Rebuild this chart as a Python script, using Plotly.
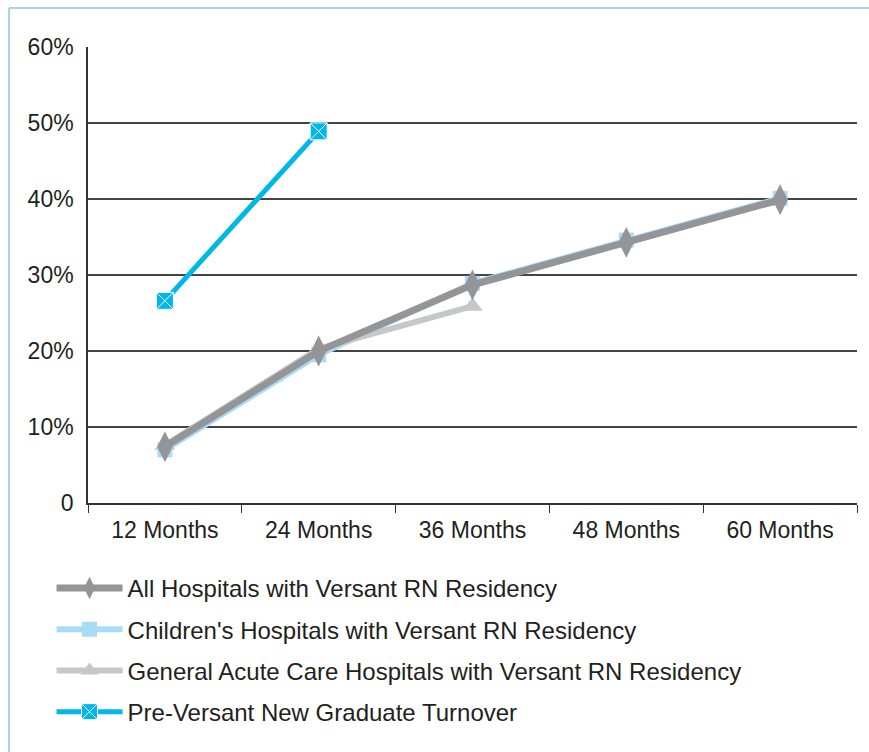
import plotly.graph_objects as go

categories = ["12 Months", "24 Months", "36 Months", "48 Months", "60 Months"]
all_hosp = [7.4, 20.0, 28.7, 34.3, 39.9]
childrens = [7.0, 19.5, 28.9, 34.6, 40.1]
general_acute = [7.6, 20.3, 25.9, None, None]
pre_versant = [26.6, 48.9, None, None, None]

y_ticks = [0, 10, 20, 30, 40, 50, 60]
y_tick_labels = ["0", "10%", "20%", "30%", "40%", "50%", "60%"]

names = [
    "All Hospitals with Versant RN Residency",
    "Children's Hospitals with Versant RN Residency",
    "General Acute Care Hospitals with Versant RN Residency",
    "Pre-Versant New Graduate Turnover",
]

FONT = "Liberation Sans, Arial, sans-serif"
FS = 23

fig = go.Figure()
fig.add_trace(go.Scatter(
    x=categories, y=childrens, name=names[1], mode="lines+markers",
    line=dict(color="#a8dcf5", width=6),
    marker=dict(symbol="square", size=15, color="#a8dcf5"),
    legendrank=2, legendgroup="b",
))
fig.add_trace(go.Scatter(
    x=categories, y=general_acute, name=names[2], mode="lines+markers",
    line=dict(color="#c6c7c8", width=6),
    marker=dict(symbol="triangle-up", size=18, color="#c6c7c8"),
    legendrank=3, legendgroup="c",
))
fig.add_trace(go.Scatter(
    x=categories, y=all_hosp, name=names[0], mode="lines+markers",
    line=dict(color="#939598", width=7),
    marker=dict(symbol="diamond-tall", size=22, color="#939598"),
    legendrank=1, legendgroup="a",
))
fig.add_trace(go.Scatter(
    x=categories, y=pre_versant, name=names[3], mode="lines+markers",
    line=dict(color="#00b7ea", width=5),
    marker=dict(symbol="square-x", size=17, color="#00b7ea",
                line=dict(color="white", width=1)),
    legendrank=4, legendgroup="d",
))

# decorative frame (left and top edges visible)
fig.add_shape(type="line", xref="paper", yref="paper",
              x0=-0.1027, x1=-0.1027, y0=1.0855, y1=-0.6,
              line=dict(color="#8cc3e3", width=1.5))
fig.add_shape(type="line", xref="paper", yref="paper",
              x0=-0.1027, x1=1.05, y0=1.0855, y1=1.0855,
              line=dict(color="#8cc3e3", width=1.5))

fig.update_layout(
    width=869, height=752,
    margin=dict(l=88, r=12, t=47, b=249),
    paper_bgcolor="white", plot_bgcolor="white",
    font=dict(family=FONT, size=FS, color="#231f20"),
    showlegend=True,
    legend=dict(
        orientation="v", x=-0.0474, y=-0.138, xanchor="left", yanchor="top",
        font=dict(family=FONT, size=24, color="#231f20"),
        tracegroupgap=7, itemwidth=66,
        bgcolor="rgba(0,0,0,0)",
    ),
)
fig.update_xaxes(
    type="category", showgrid=False, showline=True, linecolor="#333333", linewidth=1.5,
    ticks="outside", tickson="boundaries", ticklen=8, tickcolor="#333333", tickwidth=1,
    tickfont=dict(family=FONT, size=FS, color="#231f20"), fixedrange=True,
    range=[-0.5, 4.5], ticklabelstandoff=6,
)
fig.update_yaxes(
    range=[0, 60], tickvals=y_ticks, ticktext=y_tick_labels,
    showgrid=True, gridcolor="#444444", gridwidth=1.5,
    showline=True, linecolor="#333333", linewidth=1.5, mirror=False,
    ticks="", zeroline=False, tickfont=dict(family=FONT, size=FS, color="#231f20"),
    ticklabelstandoff=8, fixedrange=True,
)

fig.write_html("out.html", config={"displayModeBar": False},
               post_script="document.body.style.margin='0';document.body.style.overflow='hidden';")
